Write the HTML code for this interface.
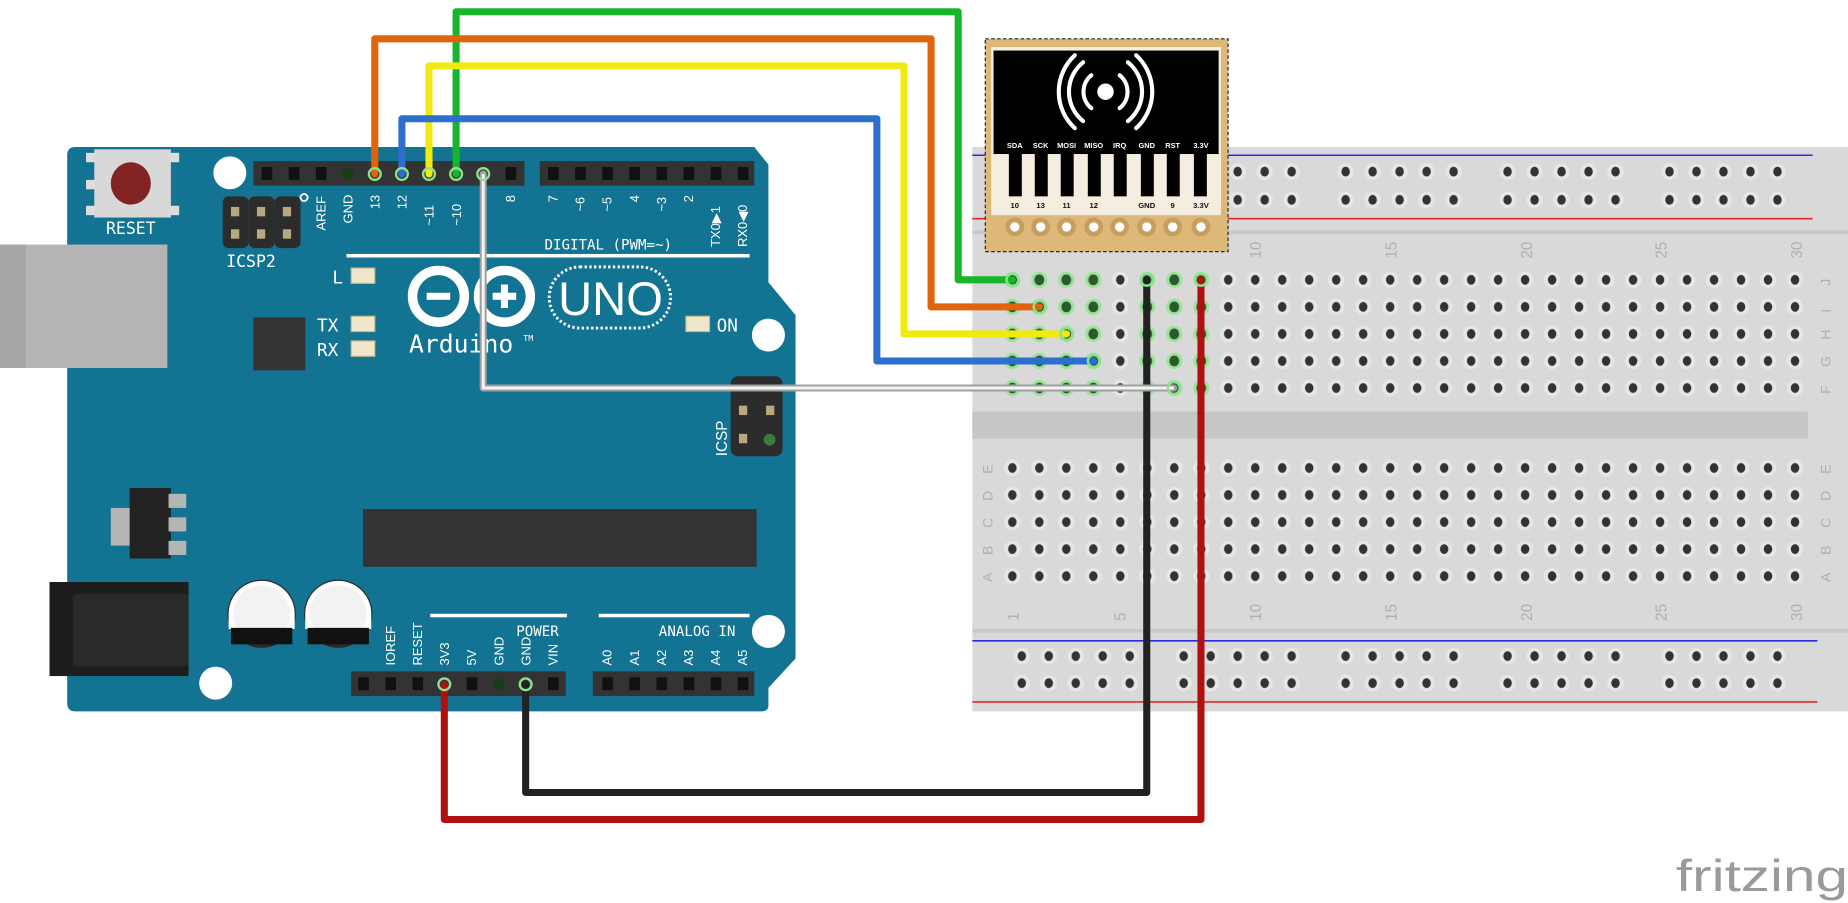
<!DOCTYPE html>
<html><head><meta charset="utf-8"><style>
html,body{margin:0;padding:0;background:#fff;width:1848px;height:903px;overflow:hidden}
svg{display:block}
text{font-family:"Liberation Sans",sans-serif}
.m{font-family:"DejaVu Sans Mono","Liberation Mono",monospace;fill:#fff}
</style></head><body>
<svg width="1848" height="903" viewBox="0 0 1568 768" preserveAspectRatio="none" xmlns="http://www.w3.org/2000/svg">
<defs>
<pattern id="hole" x="847.5" y="226.5" width="22.9" height="23" patternUnits="userSpaceOnUse">
<circle cx="11.45" cy="11.5" r="7" fill="#e6e6e6"/><ellipse cx="11.45" cy="11.5" rx="3.6" ry="4.2" fill="#333"/></pattern>
<pattern id="holeG" x="847.5" y="226.5" width="22.9" height="23" patternUnits="userSpaceOnUse">
<circle cx="11.45" cy="11.5" r="7" fill="#9be39b"/><ellipse cx="11.45" cy="11.5" rx="4.2" ry="4.6" fill="#2d5a2d"/></pattern>
<pattern id="holeB" x="847.5" y="386.5" width="22.9" height="23" patternUnits="userSpaceOnUse">
<circle cx="11.45" cy="11.5" r="7" fill="#e6e6e6"/><ellipse cx="11.45" cy="11.5" rx="3.6" ry="4.2" fill="#333"/></pattern>
<pattern id="rail" x="855.5" y="134.5" width="22.9" height="24" patternUnits="userSpaceOnUse">
<circle cx="11.45" cy="11.5" r="7" fill="#e6e6e6"/><ellipse cx="11.45" cy="11.5" rx="3.6" ry="4.2" fill="#333"/></pattern>
<pattern id="rail2" x="855.5" y="546.5" width="22.9" height="23" patternUnits="userSpaceOnUse">
<circle cx="11.45" cy="11.5" r="7" fill="#e6e6e6"/><ellipse cx="11.45" cy="11.5" rx="3.6" ry="4.2" fill="#333"/></pattern>
</defs>

<rect x="825" y="125" width="743" height="480" fill="#d9d9d9"/>
<rect x="825" y="196" width="743" height="3" fill="#c8c8c8"/>
<rect x="825" y="350" width="709" height="23" fill="#c6c6c6"/>
<rect x="825" y="535" width="743" height="3" fill="#c8c8c8"/>
<line x1="825" y1="132" x2="1538" y2="132" stroke="#2a2ae0" stroke-width="1.3"/>
<line x1="825" y1="186" x2="1538" y2="186" stroke="#e02a2a" stroke-width="1.3"/>
<line x1="825" y1="545" x2="1542" y2="545" stroke="#2a2ae0" stroke-width="1.3"/>
<line x1="825" y1="597" x2="1542" y2="597" stroke="#e02a2a" stroke-width="1.3"/>
<rect x="847.5" y="226.5" width="687" height="115" fill="url(#hole)"/>
<rect x="847.5" y="226.5" width="91.6" height="115" fill="url(#holeG)"/>
<rect x="962" y="226.5" width="68.7" height="115" fill="url(#holeG)"/>
<rect x="847.5" y="386.5" width="687" height="115" fill="url(#holeB)"/>
<g fill="url(#rail)">
<rect x="855.5" y="134.5" width="114.5" height="48"/><rect x="992.9" y="134.5" width="114.5" height="48"/>
<rect x="1130.3" y="134.5" width="114.5" height="48"/><rect x="1267.7" y="134.5" width="114.5" height="48"/>
<rect x="1405.1" y="134.5" width="114.5" height="48"/></g>
<g fill="url(#rail2)">
<rect x="855.5" y="546.5" width="114.5" height="46"/><rect x="992.9" y="546.5" width="114.5" height="46"/>
<rect x="1130.3" y="546.5" width="114.5" height="46"/><rect x="1267.7" y="546.5" width="114.5" height="46"/>
<rect x="1405.1" y="546.5" width="114.5" height="46"/></g>
<g fill="#b0b0b0" font-size="13">
<text transform="translate(1070,220) rotate(-90)">10</text><text transform="translate(1185,220) rotate(-90)">15</text>
<text transform="translate(1300,220) rotate(-90)">20</text><text transform="translate(1414,220) rotate(-90)">25</text>
<text transform="translate(1529,220) rotate(-90)">30</text>
<text transform="translate(864,528) rotate(-90)">1</text><text transform="translate(955,528) rotate(-90)">5</text>
<text transform="translate(1070,528) rotate(-90)">10</text><text transform="translate(1185,528) rotate(-90)">15</text>
<text transform="translate(1300,528) rotate(-90)">20</text><text transform="translate(1414,528) rotate(-90)">25</text>
<text transform="translate(1529,528) rotate(-90)">30</text>
</g>
<g fill="#b0b0b0" font-size="12">
<text transform="translate(1553,243) rotate(-90)">J</text><text transform="translate(1553,266) rotate(-90)">I</text>
<text transform="translate(1553,289) rotate(-90)">H</text><text transform="translate(1553,312) rotate(-90)">G</text>
<text transform="translate(1553,335) rotate(-90)">F</text>
<text transform="translate(842,403) rotate(-90)">E</text><text transform="translate(842,426) rotate(-90)">D</text>
<text transform="translate(842,449) rotate(-90)">C</text><text transform="translate(842,472) rotate(-90)">B</text>
<text transform="translate(842,495) rotate(-90)">A</text>
<text transform="translate(1553,403) rotate(-90)">E</text><text transform="translate(1553,426) rotate(-90)">D</text>
<text transform="translate(1553,449) rotate(-90)">C</text><text transform="translate(1553,472) rotate(-90)">B</text>
<text transform="translate(1553,495) rotate(-90)">A</text>
</g>

<rect x="58" y="198" width="14" height="128" fill="#a8a8a8"/>
<path d="M64,125 L640,125 L652,140 L652,240 L675,268 L675,560 L652,585 L652,600 Q652,605 646,605 L64,605 Q57,605 57,598 L57,132 Q57,125 64,125Z" fill="#137392"/>
<rect x="0" y="208" width="142" height="105" fill="#b5b5b5"/>
<rect x="0" y="208" width="22" height="105" fill="#a6a6a6"/>
<rect x="42" y="495" width="118" height="80" fill="#1d1d1d"/>
<rect x="62" y="505" width="98" height="62" fill="#2a2a2a" rx="4"/>
<circle cx="195" cy="147" r="14" fill="#fff"/><circle cx="652" cy="285" r="14" fill="#fff"/>
<circle cx="652" cy="537" r="14" fill="#fff"/><circle cx="183" cy="581" r="14" fill="#fff"/>
<rect x="73" y="130" width="8" height="8" fill="#ddd"/><rect x="73" y="153" width="8" height="8" fill="#ddd"/><rect x="73" y="175" width="8" height="8" fill="#ddd"/>
<rect x="144" y="130" width="8" height="8" fill="#ddd"/><rect x="144" y="175" width="8" height="8" fill="#ddd"/>
<rect x="80" y="127" width="65" height="58" fill="#d8d8d8"/>
<ellipse cx="111" cy="156" rx="17" ry="18" fill="#822424"/>
<text x="111" y="199" class="m" font-size="14" text-anchor="middle">RESET</text>
<g fill="#2c2c2c"><rect x="189" y="167" width="22" height="44" rx="5"/><rect x="211" y="167" width="22" height="44" rx="5"/><rect x="233" y="167" width="22" height="44" rx="5"/></g>
<g fill="#b8a880"><rect x="196" y="176" width="7" height="8"/><rect x="218" y="176" width="7" height="8"/><rect x="240" y="176" width="7" height="8"/>
<rect x="196" y="195" width="7" height="8"/><rect x="218" y="195" width="7" height="8"/><rect x="240" y="195" width="7" height="8"/></g>
<text x="213" y="227" class="m" font-size="14" text-anchor="middle">ICSP2</text>
<circle cx="258" cy="168" r="3" fill="none" stroke="#fff" stroke-width="1.5"/>
<rect x="215" y="137" width="230" height="21" fill="#333"/>
<rect x="458" y="137" width="182" height="21" fill="#333"/>
<rect x="298" y="571" width="182" height="21" fill="#333"/>
<rect x="503" y="571" width="137" height="21" fill="#333"/>
<g fill="#111">
<rect x="222" y="142" width="9" height="11"/><rect x="245" y="142" width="9" height="11"/><rect x="268" y="142" width="9" height="11"/>
<rect x="429" y="142" width="9" height="11"/>
<rect x="465" y="142" width="9" height="11"/><rect x="488" y="142" width="9" height="11"/><rect x="511" y="142" width="9" height="11"/><rect x="534" y="142" width="9" height="11"/>
<rect x="557" y="142" width="9" height="11"/><rect x="580" y="142" width="9" height="11"/><rect x="603" y="142" width="9" height="11"/><rect x="626" y="142" width="9" height="11"/>
<rect x="304" y="576" width="9" height="11"/><rect x="327" y="576" width="9" height="11"/><rect x="350" y="576" width="9" height="11"/><rect x="396" y="576" width="9" height="11"/><rect x="465" y="576" width="9" height="11"/>
<rect x="511" y="576" width="9" height="11"/><rect x="534" y="576" width="9" height="11"/><rect x="557" y="576" width="9" height="11"/><rect x="580" y="576" width="9" height="11"/><rect x="603" y="576" width="9" height="11"/><rect x="626" y="576" width="9" height="11"/>
</g>
<circle cx="295" cy="148" r="5" fill="#163d16"/><circle cx="423" cy="582" r="5" fill="#163d16"/>
<g class="m" font-size="11">
<text transform="translate(276,196) rotate(-90)">AREF</text>
<text transform="translate(299,190) rotate(-90)">GND</text>
<text transform="translate(322,178) rotate(-90)">13</text>
<text transform="translate(345,178) rotate(-90)">12</text>
<text transform="translate(368,192) rotate(-90)">~11</text>
<text transform="translate(391,192) rotate(-90)">~10</text>
<text transform="translate(437,172) rotate(-90)">8</text>
<text transform="translate(473,172) rotate(-90)">7</text>
<text transform="translate(496,180) rotate(-90)">~6</text>
<text transform="translate(519,180) rotate(-90)">~5</text>
<text transform="translate(542,172) rotate(-90)">4</text>
<text transform="translate(565,180) rotate(-90)">~3</text>
<text transform="translate(588,172) rotate(-90)">2</text>
<text transform="translate(611,210) rotate(-90)">TX0▶1</text>
<text transform="translate(634,210) rotate(-90)">RX0◀0</text>
<text transform="translate(335,566) rotate(-90)">IOREF</text>
<text transform="translate(358,566) rotate(-90)">RESET</text>
<text transform="translate(381,566) rotate(-90)">3V3</text>
<text transform="translate(404,566) rotate(-90)">5V</text>
<text transform="translate(427,566) rotate(-90)">GND</text>
<text transform="translate(450,566) rotate(-90)">GND</text>
<text transform="translate(473,566) rotate(-90)">VIN</text>
<text transform="translate(519,566) rotate(-90)">A0</text>
<text transform="translate(542,566) rotate(-90)">A1</text>
<text transform="translate(565,566) rotate(-90)">A2</text>
<text transform="translate(588,566) rotate(-90)">A3</text>
<text transform="translate(611,566) rotate(-90)">A4</text>
<text transform="translate(634,566) rotate(-90)">A5</text>
<text transform="translate(617,388) rotate(-90)" font-size="13">ICSP</text>
</g>
<text x="462" y="212" class="m" font-size="12">DIGITAL (PWM=~)</text>
<rect x="294" y="216" width="342" height="3" fill="#fff"/>
<text x="438" y="541" class="m" font-size="12">POWER</text>
<text x="559" y="541" class="m" font-size="12">ANALOG IN</text>
<rect x="365" y="522" width="116" height="3" fill="#fff"/>
<rect x="508" y="522" width="128" height="3" fill="#fff"/>
<text x="282" y="241" class="m" font-size="15">L</text>
<text x="269" y="282" class="m" font-size="15">TX</text>
<text x="269" y="303" class="m" font-size="15">RX</text>
<text x="608" y="282" class="m" font-size="15">ON</text>
<g fill="#efe6cc" stroke="#c9b98a"><rect x="298" y="228" width="20" height="13"/><rect x="298" y="269" width="20" height="13"/><rect x="298" y="290" width="20" height="13"/><rect x="582" y="269" width="20" height="13"/></g>
<rect x="215" y="270" width="44" height="45" fill="#333"/>
<g fill="none" stroke="#fff" stroke-width="8"><circle cx="372" cy="252" r="22"/><circle cx="428" cy="252" r="22"/></g>
<rect x="362" y="249" width="20" height="6" fill="#fff"/>
<rect x="418" y="249" width="20" height="6" fill="#fff"/><rect x="425" y="242" width="6" height="20" fill="#fff"/>
<rect x="466" y="227" width="103" height="52" rx="26" fill="none" stroke="#fff" stroke-width="2.5" stroke-dasharray="2 2"/>
<text x="518" y="268" font-size="40" fill="#fff" text-anchor="middle" font-family="Liberation Sans">UNO</text>
<text x="347" y="300" class="m" font-size="21">Arduino</text>
<text x="444" y="290" class="m" font-size="7">TM</text>
<rect x="620" y="320" width="44" height="68" rx="6" fill="#2c2c2c"/>
<g fill="#b8a880"><rect x="627" y="345" width="7" height="8"/><rect x="650" y="345" width="7" height="8"/><rect x="627" y="369" width="7" height="8"/></g>
<circle cx="653" cy="374" r="5" fill="#3a7d3a"/>
<rect x="94" y="432" width="20" height="32" fill="#b5b5b5"/>
<rect x="110" y="415" width="35" height="60" fill="#222"/>
<g fill="#b5b5b5"><rect x="143" y="420" width="15" height="12"/><rect x="143" y="440" width="15" height="12"/><rect x="143" y="460" width="15" height="12"/></g>
<rect x="308" y="433" width="334" height="49" fill="#333"/>
<g><circle cx="222" cy="522" r="29" fill="#2a2a2a"/><path d="M194,522 A28,28 0 0 1 250,522 L250,535 L194,535Z" fill="#fff"/>
<circle cx="287" cy="522" r="29" fill="#2a2a2a"/><path d="M259,522 A28,28 0 0 1 315,522 L315,535 L259,535Z" fill="#fff"/>
<circle cx="222" cy="522" r="24" fill="#f2f2f2"/><rect x="196" y="534" width="52" height="14" fill="#111"/>
<circle cx="287" cy="522" r="24" fill="#f2f2f2"/><rect x="261" y="534" width="52" height="14" fill="#111"/></g>

<rect x="836" y="33" width="206" height="181" fill="#deb879" stroke="#222" stroke-width="1" stroke-dasharray="3 2"/>
<rect x="841" y="40" width="195" height="143" fill="#f5ede0"/>
<rect x="843" y="43" width="191" height="88" fill="#000"/>
<g fill="#000">
<rect x="856" y="130" width="11" height="37"/><rect x="878" y="130" width="11" height="37"/><rect x="900" y="130" width="11" height="37"/><rect x="923" y="130" width="11" height="37"/>
<rect x="945" y="130" width="11" height="37"/><rect x="968" y="130" width="11" height="37"/><rect x="990" y="130" width="11" height="37"/><rect x="1013" y="130" width="11" height="37"/></g>
<circle cx="938" cy="78" r="7" fill="#fff"/>
<g fill="none" stroke="#fff" stroke-width="3.5" stroke-linecap="round">
<path d="M926,64 A18,18 0 0 0 926,92"/><path d="M950,64 A18,18 0 0 1 950,92"/>
<path d="M919,53 A32,32 0 0 0 919,103"/><path d="M957,53 A32,32 0 0 1 957,103"/>
<path d="M912,47 A42,42 0 0 0 912,109"/><path d="M964,47 A42,42 0 0 1 964,109"/></g>
<g fill="#fff" font-size="6.3" font-weight="bold" text-anchor="middle">
<text x="861" y="126">SDA</text><text x="883" y="126">SCK</text><text x="905" y="126">MOSI</text><text x="928" y="126">MISO</text>
<text x="950" y="126">IRQ</text><text x="973" y="126">GND</text><text x="995" y="126">RST</text><text x="1019" y="126">3.3V</text></g>
<g fill="#111" font-size="6.5" font-weight="bold" text-anchor="middle">
<text x="861" y="177">10</text><text x="883" y="177">13</text><text x="905" y="177">11</text><text x="928" y="177">12</text>
<text x="973" y="177">GND</text><text x="995" y="177">9</text><text x="1019" y="177">3.3V</text></g>
<g fill="#fff" stroke="#c79e5e" stroke-width="4">
<circle cx="861" cy="193" r="6"/><circle cx="883" cy="193" r="6"/><circle cx="905" cy="193" r="6"/><circle cx="928" cy="193" r="6"/>
<circle cx="950" cy="193" r="6"/><circle cx="973" cy="193" r="6"/><circle cx="995" cy="193" r="6"/><circle cx="1019" cy="193" r="6"/></g>

<g fill="none" stroke-width="6" stroke-linejoin="round" stroke-linecap="round">
<polyline points="446,582 446,674 973,674 973,238" stroke="#222"/>
<polyline points="377,582 377,697 1019,697 1019,238" stroke="#b01010"/>
<polyline points="387,148 387,10 813,10 813,238 859,238" stroke="#17b52a"/>
<polyline points="318,148 318,33 790,33 790,261 882,261" stroke="#e0640c"/>
<polyline points="364,148 364,56 767,56 767,284 905,284" stroke="#f0ea10"/>
<polyline points="341,148 341,101 744,101 744,307 928,307" stroke="#2d6fcc"/>
<polyline points="410,148 410,330 996,330" stroke="#a0a0a0"/>
</g>
<polyline points="410,148 410,330 996,330" fill="none" stroke="#f4f4f4" stroke-width="2.5"/>
<g fill="none" stroke="#8ee08e" stroke-width="2">
<circle cx="859" cy="238" r="5"/><circle cx="882" cy="261" r="5"/><circle cx="905" cy="284" r="5"/><circle cx="928" cy="307" r="5"/><circle cx="996" cy="330" r="5"/>
<circle cx="318" cy="148" r="5"/><circle cx="341" cy="148" r="5"/><circle cx="364" cy="148" r="5"/><circle cx="387" cy="148" r="5"/><circle cx="410" cy="148" r="5"/>
<circle cx="377" cy="582" r="5"/><circle cx="446" cy="582" r="5"/><circle cx="973" cy="238" r="5"/><circle cx="1019" cy="238" r="5"/></g>

<text x="1422" y="758" font-size="38" fill="#9a9a9a" font-family="DejaVu Sans Mono, monospace" textLength="146" lengthAdjust="spacingAndGlyphs">fritzing</text>
</svg>
</body></html>
